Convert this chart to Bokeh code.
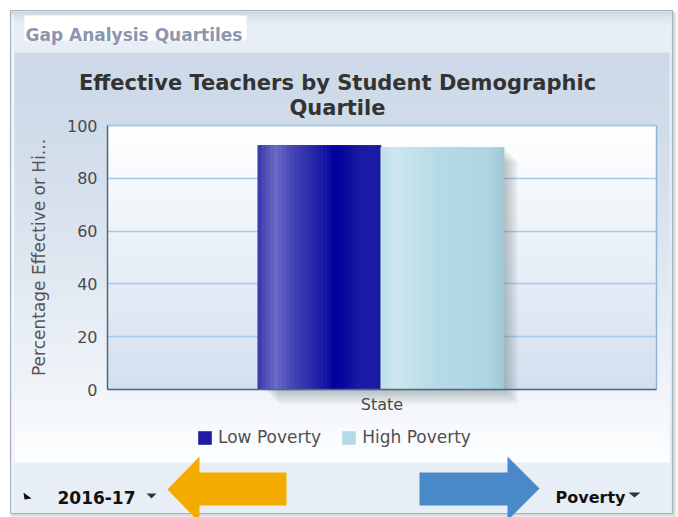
from bokeh.plotting import figure
from bokeh.models import (Range1d, Legend, LegendItem, ColumnDataSource, FixedTicker, Grid)
from bokeh.transform import dodge
from bokeh.core.properties import value
from bokeh.embed import file_html
from bokeh.resources import INLINE

# ---------------- data ----------------
categories = ["State"]
series = ["Low Poverty", "High Poverty"]
low_poverty = [92.5]
high_poverty = [91.8]
y_ticks = [0, 20, 40, 60, 80, 100]
chart_title = ["Effective Teachers by Student Demographic", "Quartile"]
panel_title = "Gap Analysis Quartiles"
y_label = "Percentage Effective or Hi..."
year_filter = "2016-17"
demographic_filter = "Poverty"

# ---------------- layout constants (canvas pixels) ----------------
W, H = 678, 517
FL, FR, FT, FB = 107, 656, 125, 389      # plot-area edges
FW, FH = FR - FL, FB - FT
BAR_W = 0.224
OFFSETS = [-0.114, 0.11]
FONT = "DejaVu Sans"

n_cat = len(categories)
ymin, ymax = y_ticks[0], y_ticks[-1]
u_y = (ymax - ymin) / FH                  # value units per pixel
u_x = n_cat / FW                          # category units per pixel


def hex2rgb(h):
    h = h.lstrip("#")
    return tuple(int(h[i:i + 2], 16) for i in (0, 2, 4))


def interp(stops, t):
    for (p0, c0), (p1, c1) in zip(stops[:-1], stops[1:]):
        if p0 <= t <= p1:
            f = 0 if p1 == p0 else (t - p0) / (p1 - p0)
            a, b = hex2rgb(c0), hex2rgb(c1)
            return "#%02x%02x%02x" % tuple(int(round(a[i] + (b[i] - a[i]) * f)) for i in range(3))
    return stops[-1][1]


p = figure(width=W, height=H,
           x_range=Range1d(-FL * u_x, (W - FL) * u_x),
           y_range=Range1d(ymin - (H - FB) * u_y, ymax + FT * u_y),
           output_backend="svg", toolbar_location=None,
           min_border=0, min_border_left=0, min_border_right=0,
           min_border_top=0, min_border_bottom=0)
p.extra_x_ranges = {"px": Range1d(0, W)}
p.extra_y_ranges = {"px": Range1d(H, 0)}
p.outline_line_color = None
p.background_fill_color = "white"
p.border_fill_color = "white"

PX = dict(x_range_name="px", y_range_name="px")


def pquad(l, r, t, b, color, alpha=1.0, line=None, lw=1, level="image"):
    p.quad(left=[l], right=[r], top=[t], bottom=[b], fill_color=color, fill_alpha=alpha,
           line_color=line, line_width=lw, level=level, **PX)


# ---------------- panel decorations ----------------
# drop shadow of the panel
pquad(11, 676, 12, 517, "#9aa2ac", alpha=0.25)
pquad(10, 674, 11, 515, "#9aa2ac", alpha=0.25)
# outer panel
pquad(10, 672, 10, 513, "#e8eef6", line="#aab3bd", lw=1.2)
# header top gradient
head_stops = [(0, "#c8d0da"), (0.4, "#dde5ee"), (1, "#e8eef6")]
for i in range(10):
    y0 = 11 + i * 1.5
    pquad(11, 671, y0, y0 + 1.7, interp(head_stops, (i + 0.5) / 10))
# lighter inner left line
pquad(11.5, 13, 14, 510, "#f4f7fb")

# chart container gradient
cont_top, cont_bot = 52, 462
n_c = 60
for i in range(n_c):
    y0 = cont_top + (cont_bot - cont_top) * i / n_c
    y1 = min(cont_top + (cont_bot - cont_top) * (i + 1) / n_c + 0.6, cont_bot)
    t = ((i + 0.5) / n_c) ** 1.5
    pquad(14, 669, y0, y1, interp([(0, "#cdd9e8"), (1, "#fdfeff")], t))

# white box behind the panel title
pquad(24, 246, 15, 40, "#ffffff")

# plot-area gradient (data units)
n_p = 40
for i in range(n_p):
    b0 = ymin + (ymax - ymin) * i / n_p
    b1 = min(ymin + (ymax - ymin) * (i + 1) / n_p + 0.3, ymax)
    p.quad(left=[0], right=[n_cat], bottom=[b0], top=[b1],
           fill_color=interp([(0, "#d2e0ef"), (1, "#ffffff")], (i + 0.5) / n_p),
           line_color=None, level="image")

# ---------------- axes & grid ----------------
p.xgrid.visible = False
p.ygrid.ticker = FixedTicker(ticks=y_ticks)
p.ygrid.grid_line_color = "#a8c8e8"
p.ygrid.grid_line_width = 1.5
if "cross_bounds" in Grid.properties():
    p.ygrid.cross_bounds = (0, n_cat)
else:
    p.ygrid.visible = False
    p.segment(x0=[0] * len(y_ticks), x1=[n_cat] * len(y_ticks), y0=y_ticks, y1=y_ticks,
              line_color="#a8c8e8", line_width=1.5, level="underlay")

# top and right border of the plot area
p.line(x=[0, n_cat, n_cat], y=[ymax, ymax, ymin], line_color="#8ab6de", line_width=1.5,
       level="underlay")

p.yaxis.fixed_location = 0
p.yaxis.bounds = (ymin, ymax)
p.yaxis.ticker = FixedTicker(ticks=y_ticks)
p.yaxis.major_tick_in = 0
p.yaxis.major_tick_out = 0
p.yaxis.minor_tick_line_color = None
p.yaxis.axis_line_color = "#50687f"
p.yaxis.axis_line_width = 1.5
p.yaxis.major_label_text_font = FONT
p.yaxis.major_label_text_font_size = "16px"
p.yaxis.major_label_text_color = "#4a4a4a"
p.yaxis.major_label_standoff = 10
p.yaxis.axis_label = y_label
p.yaxis.axis_label_text_font = FONT
p.yaxis.axis_label_text_font_size = "17px"
p.yaxis.axis_label_text_font_style = "normal"
p.yaxis.axis_label_text_color = "#555555"
p.yaxis.axis_label_standoff = 15

cat_pos = [i + 0.5 for i in range(n_cat)]
p.xaxis.fixed_location = ymin
p.xaxis.bounds = (0, n_cat)
p.xaxis.ticker = FixedTicker(ticks=cat_pos)
p.xaxis.major_label_overrides = {pos: name for pos, name in zip(cat_pos, categories)}
p.xaxis.major_tick_in = 0
p.xaxis.major_tick_out = 0
p.xaxis.minor_tick_line_color = None
p.xaxis.axis_line_color = "#50687f"
p.xaxis.axis_line_width = 1.5
p.xaxis.major_label_text_font = FONT
p.xaxis.major_label_text_font_size = "16px"
p.xaxis.major_label_text_color = "#4a4a4a"
p.xaxis.major_label_standoff = 5

# ---------------- bars ----------------
src = ColumnDataSource(dict(x=cat_pos, low=low_poverty, high=high_poverty))

# soft drop shadow (right of and below the bars)
for d in range(2, 15, 2):
    p.quad(left=[c + OFFSETS[0] - BAR_W / 2 + (d + 6) * u_x for c in cat_pos],
           right=[c + OFFSETS[1] + BAR_W / 2 + d * u_x for c in cat_pos],
           top=[v - d * u_y for v in high_poverty],
           bottom=[ymin - d * u_y] * n_cat,
           fill_color="#55606c", fill_alpha=0.06, line_color=None)

low_stops = [(0, "#3434ab"), (0.07, "#5252b8"), (0.15, "#6a6ac6"), (0.28, "#4646b6"),
             (0.42, "#2e2eab"), (0.55, "#1616a4"), (0.62, "#00009e"), (0.72, "#0a0a9f"),
             (0.82, "#1919a4"), (0.97, "#1c1ca6"), (1.0, "#12129f")]
high_stops = [(0, "#bcdfe9"), (0.13, "#cfe7ef"), (0.3, "#c0e0ea"), (0.5, "#b5dae5"),
              (0.85, "#add6e1"), (0.95, "#a6cfdb"), (1.0, "#9fc7d3")]

bases = []
for field, off, stops, base_col in [("low", OFFSETS[0], low_stops, "#1c1ca6"),
                                     ("high", OFFSETS[1], high_stops, "#b3dbe6")]:
    base = p.vbar(x=dodge("x", off), top=field, bottom=ymin, width=BAR_W, source=src,
                  fill_color=base_col, line_color=None)
    bases.append(base)
    n = 30
    w = BAR_W / n
    for k in range(n):
        o = off - BAR_W / 2 + (k + 0.5) * w
        p.vbar(x=dodge("x", o), top=field, bottom=ymin, width=w * 1.2, source=src,
               fill_color=interp(stops, (k + 0.5) / n), line_color=None)

legend = Legend(items=[LegendItem(label=series[0], renderers=[bases[0]]),
                       LegendItem(label=series[1], renderers=[bases[1]])],
                orientation="horizontal", location=(196, H - 447),
                glyph_width=17, glyph_height=17, label_standoff=5, spacing=19,
                padding=0, margin=0, border_line_alpha=0, background_fill_alpha=0,
                label_text_font=FONT, label_text_font_size="17px",
                label_text_color="#505050", label_height=20)
p.add_layout(legend)

# ---------------- texts ----------------
def ptext(text, x, y, size, color, style="normal", align="left"):
    p.text(x=[x], y=[y], text=[text], text_font=value(FONT), text_font_size=value(size),
           text_font_style=style, text_color=color, text_align=align,
           text_baseline="alphabetic", level="annotation", **PX)

ptext(panel_title, 25, 34, "17px", "#8c95ad", style="bold")
ptext(chart_title[0], 337, 82, "21px", "#333333", style="bold", align="center")
ptext(chart_title[1], 337, 107, "21px", "#333333", style="bold", align="center")
ptext(year_filter, 57, 497, "17px", "#111111", style="bold")
ptext(demographic_filter, 555, 497, "16px", "#111111", style="bold")

# ---------------- arrows and small marks ----------------
def ppatch(pts, color):
    p.patch(x=[a for a, _ in pts], y=[b for _, b in pts], fill_color=color,
            line_color=None, level="annotation", **PX)

ppatch([(167, 489), (199, 456), (199, 472), (286, 472), (286, 505), (199, 505), (199, 522)], "#f3ab00")
ppatch([(419, 472), (507, 472), (507, 456), (539, 488), (507, 520), (507, 505), (419, 505)], "#4a89c8")
ppatch([(146, 493), (156, 493), (151, 498)], "#333333")
ppatch([(628, 492), (640, 492), (634, 497)], "#333333")
ppatch([(23, 492), (31, 498), (24, 499)], "#111111")

open("out.html", "w").write(file_html(p, INLINE))
